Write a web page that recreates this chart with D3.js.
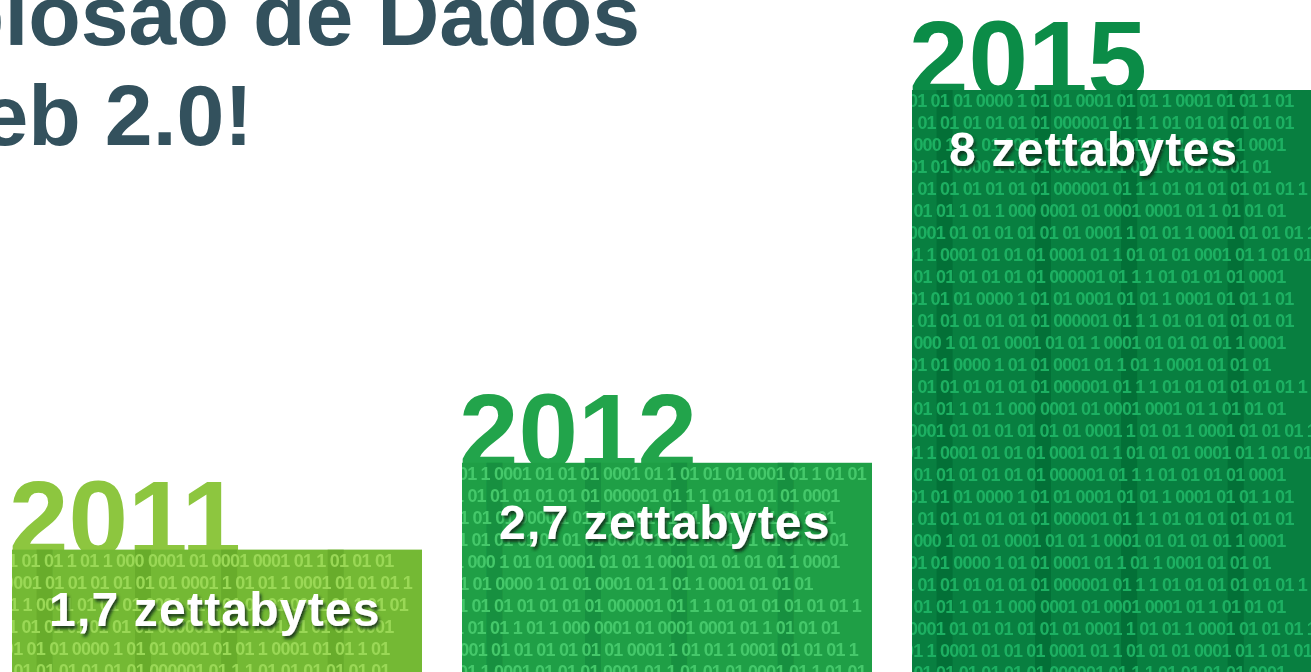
<!DOCTYPE html>
<html>
<head>
<meta charset="utf-8">
<script src="https://cdn.jsdelivr.net/npm/d3@7/dist/d3.min.js"></script>
<style>
  html, body { margin: 0; padding: 0; background: #ffffff; overflow: hidden; }
  svg { display: block; }
</style>
</head>
<body>
<svg id="chart" width="1311" height="672"></svg>
<script>
// ---- data ----
const years = ["2011", "2012", "2015"];
const values = [1.7, 2.7, 8];
const valueLabels = ["1,7 zettabytes", "2,7 zettabytes", "8 zettabytes"];
const titleLines = ["Explosão de Dados", "da Web 2.0!"];

// ---- styles ----
const barColors = ["#74b934", "#1f9f46", "#087f40"];
const digitColors = ["#9ad856", "#44c86b", "#1fb062"];
const streakColors = ["#5fa328", "#15873a", "#056634"];
const yearColors = ["#8dc63f", "#22a44b", "#0b8c47"];

// texture rows for the binary pattern inside the bars
const binaryRows = [
  "1 01 01   1 01   1 000  0001 01 0001 0001 01 1 01 01 01",
  "0001 01 01 01 01 01 01 0001 1 01   01 1 0001 01 01 01 1",
  "01 1 0001 01 01 01 0001 01   1 01 01 01 0001 01 1 01 01",
  "1 01 01 01 01 01 01  000001 01 1    1 01 01 01 01 0001",
  "01 01 01 0000  1 01 01 0001 01    01 1 0001 01 01 1 01",
  "1 01 01 01 01 01 01   000001 01 1   1 01 01 01 01 01 01",
  "1 000   1 01 01 0001 01   01 1 0001 01 01 01 01 1 0001",
  "01 01 0000   1 01 01 0001   01 1   01 1 0001 01 01 01",
  "1 01 01 01 01 01 01 000001 01 1   1 01 01 01 01 01 01 1"
];

const W = 1311, H = 672;
const svg = d3.select("#chart");

const defs = svg.append("defs");
const f = defs.append("filter").attr("id", "shadow")
  .attr("x", "-10%").attr("y", "-30%").attr("width", "130%").attr("height", "170%");
f.append("feDropShadow").attr("dx", 2).attr("dy", 3).attr("stdDeviation", 1.8)
  .attr("flood-color", "#0d2a12").attr("flood-opacity", 0.85);
defs.append("filter").attr("id", "soft")
  .append("feGaussianBlur").attr("stdDeviation", 0.7);

// ---- scales ----
const x = d3.scaleBand().domain(years)
  .range([12, 1322]).paddingInner(40 / 450).paddingOuter(0);
const y = d3.scalePow().exponent(0.75).domain([0, 8]).range([759, 90]);

// ---- title ----
const title = svg.append("g")
  .attr("font-family", "'Liberation Sans', Arial, Helvetica, sans-serif")
  .attr("font-weight", "bold").attr("font-size", 86).attr("fill", "#33515d")
  .attr("text-anchor", "end");
title.append("text").attr("x", 640).attr("y", 45).text(titleLines[0]);
title.append("text").attr("x", 253).attr("y", 145).text(titleLines[1]);

// ---- bars ----
const data = years.map((yr, i) => ({ yr, v: values[i], label: valueLabels[i], i }));

data.forEach(d => {
  defs.append("clipPath").attr("id", "clip" + d.i)
    .append("rect")
    .attr("x", x(d.yr)).attr("y", y(d.v))
    .attr("width", x.bandwidth()).attr("height", y(0) - y(d.v));
});

const g = svg.selectAll("g.bar").data(data).join("g").attr("class", "bar");

// year labels (behind bar top)
g.append("text")
  .attr("x", d => x(d.yr) - 3)
  .attr("y", d => y(d.v) + 6)
  .attr("font-family", "'Liberation Sans', Arial, Helvetica, sans-serif")
  .attr("font-weight", "bold")
  .attr("font-size", 107)
  .attr("fill", d => yearColors[d.i])
  .text(d => d.yr);

g.append("rect")
  .attr("x", d => x(d.yr))
  .attr("y", d => y(d.v))
  .attr("width", x.bandwidth())
  .attr("height", d => y(0) - y(d.v))
  .attr("fill", d => barColors[d.i]);

// binary texture
g.each(function(d) {
  const tg = d3.select(this).append("g")
    .attr("clip-path", "url(#clip" + d.i + ")");
  const inner = tg.append("g").attr("filter", "url(#soft)");
  const top = y(d.v);
  const nRows = Math.ceil((H - top) / 22) + 1;
  [0.06, 0.3, 0.51, 0.77].forEach(p => {
    inner.append("rect")
      .attr("x", x(d.yr) + x.bandwidth() * p)
      .attr("y", top)
      .attr("width", 16)
      .attr("height", H - top)
      .attr("fill", streakColors[d.i])
      .attr("opacity", 0.6);
  });
  for (let r = 0; r < nRows; r++) {
    inner.append("text")
      .attr("x", x(d.yr) - 4 - (r % 3) * 4)
      .attr("y", top + 17 + r * 22)
      .attr("font-family", "'Liberation Sans', Arial, sans-serif")
      .attr("font-weight", "bold")
      .attr("font-size", 18)
      .attr("letter-spacing", -0.8)
      .attr("fill", digitColors[d.i])
      .text(binaryRows[(r + d.i * 2) % binaryRows.length]);
  }
});

// value labels
g.append("text")
  .attr("x", d => x(d.yr) + 37)
  .attr("y", d => y(d.v) + 76)
  .attr("font-family", "'Liberation Sans', Arial, Helvetica, sans-serif")
  .attr("font-weight", "bold")
  .attr("font-size", 48)
  .attr("letter-spacing", 1.2)
  .attr("fill", "#ffffff")
  .attr("filter", "url(#shadow)")
  .text(d => d.label);
</script>
</body>
</html>
